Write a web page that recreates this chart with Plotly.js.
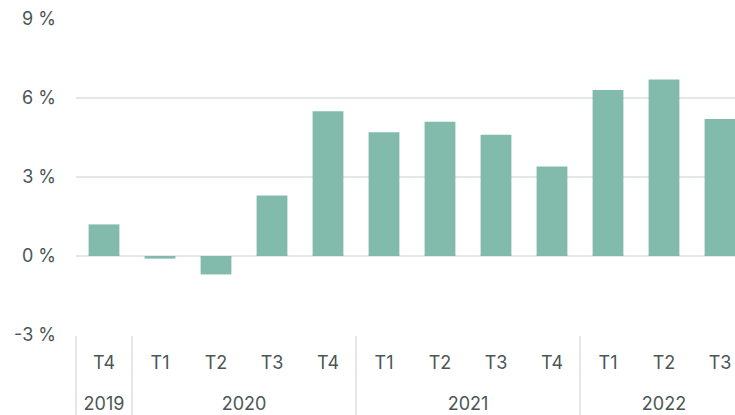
<!DOCTYPE html>
<html>
<head>
<meta charset="utf-8">
<script src="https://cdn.plot.ly/plotly-3.0.1.min.js"></script>
<style>
html,body{margin:0;padding:0;overflow:hidden;background:#fff;width:735px;height:415px;}
#chart{width:760px;height:415px;}
</style>
</head>
<body>
<div id="chart"></div>
<script>
const years = ['2019','2020','2020','2020','2020','2021','2021','2021','2021','2022','2022','2022'];
// 2019's "T4" carries a zero-width space so Plotly keeps T1..T4 order inside each year
const quarters = ['T4\u200B','T1','T2','T3','T4','T1','T2','T3','T4','T1','T2','T3'];
const values = [1.2, -0.1, -0.7, 2.3, 5.5, 4.7, 5.1, 4.6, 3.4, 6.3, 6.7, 5.2];
const yTicks = [-3, 0, 3, 6, 9];
const yTickText = ['-3 %', '0 %', '3 %', '6 %', '9 %'];

const textColor = '#4b5654';
const gridColor = '#e3e8e6';

// inner labels get an invisible blank line to widen spacing to the year row
const innerLabels = quarters.map(q => q + "<br><span style='font-size:44px'>\u00A0</span>");

Plotly.newPlot('chart', [{
  type: 'bar',
  x: [years, innerLabels],
  y: values,
  marker: {color: '#82bbac'},
  hoverinfo: 'none'
}], {
  width: 760,
  height: 415,
  margin: {l: 76, r: 12, t: 19, b: 80},
  paper_bgcolor: '#fff',
  plot_bgcolor: '#fff',
  bargap: 0.45,
  showlegend: false,
  font: {family: 'Inter, "Noto Sans", sans-serif', size: 18, color: textColor},
  xaxis: {
    type: 'multicategory',
    showdividers: true,
    dividercolor: gridColor,
    dividerwidth: 2,
    showline: false,
    showgrid: false,
    zeroline: false,
    tickfont: {size: 18, color: textColor},
    ticks: '',
    ticklabelstandoff: 15
  },
  yaxis: {
    range: [-3, 9],
    tickvals: yTicks,
    ticktext: yTickText,
    showgrid: true,
    gridcolor: gridColor,
    gridwidth: 2,
    zeroline: false,
    showline: false,
    ticks: '',
    ticklabelstandoff: 19,
    tickfont: {size: 18, color: textColor}
  }
}, {staticPlot: true, displayModeBar: false});
</script>
</body>
</html>
